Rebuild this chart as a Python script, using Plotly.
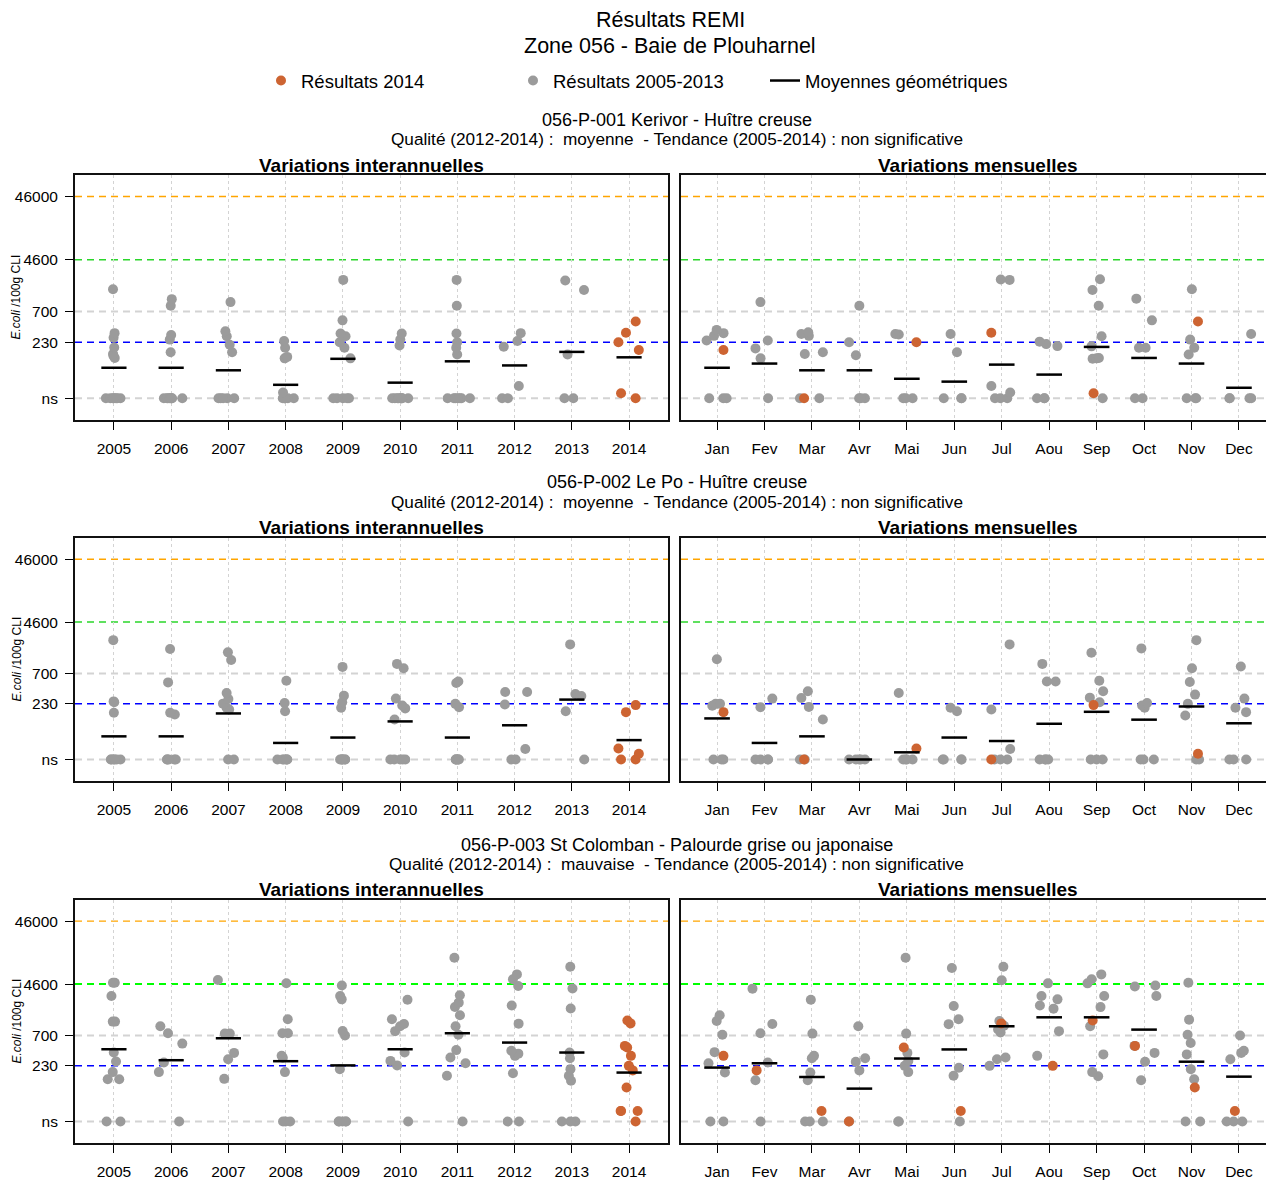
import plotly.graph_objects as go

NS = "ns"
NS_VALUE = 30  # position used to plot "ns" (non significatif) results

years = ["2005", "2006", "2007", "2008", "2009", "2010", "2011", "2012", "2013", "2014"]
months = ["Jan", "Fev", "Mar", "Avr", "Mai", "Jun", "Jul", "Aou", "Sep", "Oct", "Nov", "Dec"]
y_tick_vals = [NS, 230, 700, 4600, 46000]
y_tick_text = ["ns", "230", "700", "4600", "46000"]

# ---------------- Station 1 : 056-P-001 Kerivor - Huître creuse ----------------
s1_title = "056-P-001 Kerivor - Huître creuse"
s1_quality = "Qualité (2012-2014) :  moyenne  - Tendance (2005-2014) : non significative"
s1_year_gray = [
    [1580, 320, 270, 190, 150, 140, 130, NS, NS, NS, NS, NS, NS, NS],
    [1100, 865, 300, 253, 160, NS, NS, NS, NS, NS, NS, NS, NS],
    [988, 343, 286, 210, 160, NS, NS, NS, NS, NS],
    [240, 188, 135, 128, 37, NS, NS, NS, NS, NS, NS],
    [2213, 509, 315, 286, 230, 188, 128, NS, NS, NS, NS, NS],
    [315, 253, 204, NS, NS, NS, NS, NS, NS, NS, NS],
    [2213, 865, 315, 230, 188, 147, NS, NS, NS, NS, NS, NS, NS],
    [320, 240, 195, 47, NS, NS],
    [2170, 1530, 147, NS, NS],
    [],
]
s1_2014_months = ["Jan", "Mar", "Mai", "Jul", "Sep", "Nov"]
s1_2014_values = [173, NS, 230, 325, 36, 490]
s1_year_means = [91, 91, 83, 49, 126, 53, 115, 99, 162, 133]
s1_month_gray = [
    [360, 320, 290, 245, NS, NS, NS],
    [988, 245, 184, 128, NS],
    [330, 310, 290, 160, 150, NS, NS],
    [865, 230, 143, NS, NS, NS],
    [310, 305, NS, NS, NS],
    [310, 160, NS, NS, NS],
    [2213, 2250, 47, 37, NS, NS, NS],
    [235, 215, 200, NS, NS, NS],
    [2270, 1530, 865, 286, 198, 130, 128, 126, NS],
    [1120, 509, 188, 188, NS, NS],
    [1580, 253, 188, 147, NS, NS, NS],
    [310, NS, NS, NS, NS],
]
s1_month_means = [91, 106, 83, 83, 61, 55, 102, 71, 194, 130, 106, 44]

# ---------------- Station 2 : 056-P-002 Le Po - Huître creuse ----------------
s2_title = "056-P-002 Le Po - Huître creuse"
s2_quality = "Qualité (2012-2014) :  moyenne  - Tendance (2005-2014) : non significative"
s2_year_gray = [
    [2375, 252, 244, 166, NS, NS, NS, NS, NS, NS],
    [1714, 505, 166, 156, NS, NS, NS, NS, NS],
    [1517, 1150, 343, 275, 232, 199, 187, NS, NS],
    [537, 238, 176, NS, NS, NS, NS, NS, NS],
    [891, 311, 244, 199, NS, NS, NS, NS, NS, NS],
    [995, 849, 279, 217, 195, 130, NS, NS, NS, NS, NS],
    [523, 493, 230, 204, NS, NS, NS, NS, NS, NS],
    [356, 356, 225, 44, NS, NS],
    [2030, 331, 307, 176, NS],
    [],
]
s2_2014_months = ["Jan", "Mar", "Mai", "Jul", "Sep", "Nov"]
s2_2014_values = [170, NS, 45, NS, 220, 37]
s2_year_means = [70, 70, 162, 55, 67, 121, 67, 105, 269, 61]
s2_month_gray = [
    [1178, 230, 230, 215, NS, NS, NS],
    [279, 204, NS, NS, NS, NS],
    [365, 285, 206, 130, NS, NS],
    [NS, NS, NS, NS, NS],
    [343, NS, NS, NS, NS],
    [199, 176, NS, NS, NS, NS],
    [2030, 187, 44, NS, NS, NS],
    [995, 523, 523, NS, NS, NS, NS],
    [1500, 537, 365, 289, 244, NS, NS, NS],
    [1755, 238, 217, 199, NS, NS, NS],
    [2375, 849, 512, 323, 230, 150, NS, NS],
    [902, 279, 199, 170, NS, NS, NS],
]
s2_month_means = [135, 55, 70, NS, 39, 67, 59, 111, 172, 129, 209, 113]

# ---------------- Station 3 : 056-P-003 St Colomban ----------------
s3_title = "056-P-003 St Colomban - Palourde grise ou japonaise"
s3_quality = "Qualité (2012-2014) :  mauvaise  - Tendance (2005-2014) : non significative"
s3_year_gray = [
    [4840, 4840, 2970, 1164, 1164, 375, 270, 183, 141, 141, NS, NS],
    [981, 760, 520, 260, 183, NS],
    [5330, 750, 750, 370, 294, 143],
    [4750, 1267, 760, 760, 332, 310, 183, NS, NS, NS],
    [4370, 2970, 2630, 827, 700, 204, NS, NS, NS, NS, NS],
    [2590, 1267, 1068, 981, 820, 375, 276, 234, NS],
    [12080, 3050, 2330, 1990, 1466, 981, 720, 410, 312, 253, 160, NS],
    [6560, 5500, 4290, 2100, 1080, 400, 360, 332, 176, NS, NS],
    [8690, 3900, 1880, 375, 305, 204, 160, 133, NS, NS, NS],
    [],
]
s3_2014_months = ["Jan", "Fev", "Mar", "Avr", "Mai", "Jun", "Jul", "Aou", "Sep", "Oct", "Nov", "Dec"]
s3_2014_values = [332, 195, 44, NS, 450, 44, 1090, 230, 1210, 478, 104, 44]
s3_year_means = [423, 283, 632, 273, 234, 423, 760, 540, 375, 180]
s3_month_gray = [
    [1466, 1190, 720, 380, 253, 180, NS, NS],
    [3890, 1068, 760, 260, 136, NS],
    [2590, 750, 332, 305, 180, 136, NS, NS, NS],
    [981, 305, 268, 195, NS],
    [12080, 750, 370, 276, 230, 183, NS, NS],
    [8290, 2060, 1267, 1060, 215, 160, NS],
    [8690, 5280, 1190, 1000, 870, 780, 312, 294, 230],
    [4720, 2970, 2630, 2100, 1870, 820, 332],
    [6560, 5500, 4720, 2970, 1980, 981, 350, 183, 157],
    [4370, 4200, 2970, 478, 370, 268, 136],
    [4840, 1250, 720, 530, 350, 204, 141, NS, NS],
    [700, 400, 370, 294, NS, NS, NS],
]
s3_month_means = [216, 253, 153, 100, 301, 420, 981, 1362, 1362, 868, 268, 155]

stations = [
    (s1_title, s1_quality, s1_year_gray, s1_2014_months, s1_2014_values, s1_year_means, s1_month_gray, s1_month_means),
    (s2_title, s2_quality, s2_year_gray, s2_2014_months, s2_2014_values, s2_year_means, s2_month_gray, s2_month_means),
    (s3_title, s3_quality, s3_year_gray, s3_2014_months, s3_2014_values, s3_year_means, s3_month_gray, s3_month_means),
]

# ---------------- styling / layout ----------------
W, H = 1266, 1182
FONT = "Liberation Sans, Arial, sans-serif"
GRAY = "#9B9B9B"
ORANGE = "#CD6432"
GRIDC = "#D3D3D3"


def px(x):
    return x / W


def py(y):
    return 1 - y / H


def val(v):
    return NS_VALUE if v == NS else v


row_tops = [175, 538, 900]
row_bots = [420, 781, 1143]
row_text_y = [(120, 139, 165), (482, 502, 527), (845, 864, 889)]
left_x = (75, 668)
right_x = (681, W)
year_range = [-0.68, 9.68]
month_range = [-0.76, (W - 717) / 47.45]
y_range = [1.135, 5.0]

fig = go.Figure()

# legend entries
fig.add_trace(go.Scatter(x=[None], y=[None], mode="markers", name="Résultats 2014",
                         marker=dict(color=ORANGE, size=10)))
fig.add_trace(go.Scatter(x=[None], y=[None], mode="markers", name="Résultats 2005-2013",
                         marker=dict(color=GRAY, size=10)))

annotations = []
shapes = []
layout_axes = {}
first_mean = True

for r, (title, quality, year_gray, m2014, v2014, year_means, month_gray, month_means) in enumerate(stations):
    for c in range(2):
        k = 2 * r + c + 1
        xa = "x" if k == 1 else f"x{k}"
        ya = "y" if k == 1 else f"y{k}"
        if c == 0:
            cats = years
            gray_groups = year_gray
            orange_groups = [[] for _ in years]
            for m, v in zip(m2014, v2014):
                orange_groups[years.index("2014")].append(v)
            means = year_means
            hw = 0.22
            bw = 0.44
            xr = year_range
            dom = left_x
        else:
            cats = months
            gray_groups = month_gray
            orange_groups = [[] for _ in months]
            for m, v in zip(m2014, v2014):
                orange_groups[months.index(m)].append(v)
            means = month_means
            hw = 0.27
            bw = 0.52
            xr = month_range
            dom = right_x

        gx, gy, ox, oy = [], [], [], []
        for i, grp in enumerate(gray_groups):
            for v in grp:
                gx.append(i)
                gy.append(val(v))
        for i, grp in enumerate(orange_groups):
            for v in grp:
                ox.append(i)
                oy.append(val(v))

        for xs, ys, col in ((gx, gy, GRAY), (ox, oy, ORANGE)):
            if not xs:
                continue
            fig.add_trace(go.Box(
                x=xs, y=ys, xaxis=xa, yaxis=ya, boxpoints="all", jitter=1, pointpos=0,
                width=bw, fillcolor="rgba(0,0,0,0)",
                line=dict(width=0, color="rgba(0,0,0,0)"),
                marker=dict(color=col, size=10, opacity=1), showlegend=False, hoveron="points"))

        mx, my = [], []
        for i, m in enumerate(means):
            mx += [i - hw, i + hw, None]
            my += [val(m), val(m), None]
        fig.add_trace(go.Scatter(x=mx, y=my, mode="lines", xaxis=xa, yaxis=ya,
                                 line=dict(color="black", width=2.5),
                                 name="Moyennes géométriques", showlegend=first_mean,
                                 hoverinfo="skip"))
        first_mean = False

        axn = "" if k == 1 else str(k)
        layout_axes[f"xaxis{axn}"] = dict(
            domain=[px(dom[0]), min(1.0, px(dom[1]))], anchor=ya, range=xr,
            tickmode="array", tickvals=list(range(len(cats))), ticktext=cats,
            ticks="outside", ticklen=8, tickwidth=1.2, tickcolor="black",
            showgrid=True, gridcolor=GRIDC, griddash="dot", gridwidth=1,
            showline=True, mirror=True, linecolor="#111", linewidth=2,
            zeroline=False, tickfont=dict(size=15.5, color="black", family=FONT),
            ticklabelstandoff=5, fixedrange=True)
        layout_axes[f"yaxis{axn}"] = dict(
            domain=[py(row_bots[r]), py(row_tops[r])], anchor=xa, type="log", range=y_range,
            tickmode="array", tickvals=[val(t) for t in y_tick_vals], ticktext=y_tick_text,
            ticks="outside" if c == 0 else "", ticklen=8, tickwidth=1.2, tickcolor="black",
            showticklabels=(c == 0), showgrid=False, zeroline=False,
            showline=True, mirror=(c == 0), linecolor="#111", linewidth=2,
            tickfont=dict(size=15.5, color="black", family=FONT),
            ticklabelstandoff=4, fixedrange=True)

        # reference threshold lines
        green = "#00FF00" if r == 2 else "#2BD62B"
        gw = 2 if r == 2 else 1.5
        ow = 1.2 if r == 2 else 1.5
        refs = [(NS_VALUE, GRIDC, 2), (700, GRIDC, 2), (230, "#0000FF", 1.5),
                (4600, green, gw), (46000, "#FFA500", ow)]
        for yv, col, lw in refs:
            shapes.append(dict(type="line", xref=f"{xa} domain", yref=ya, x0=0, x1=1,
                               y0=yv, y1=yv, layer="below",
                               line=dict(color=col, width=lw, dash="7px,5px")))

        # panel subtitle
        annotations.append(dict(
            text="<b>Variations interannuelles</b>" if c == 0 else "<b>Variations mensuelles</b>",
            x=px((dom[0] + (dom[1] if c == 0 else 1275)) / 2), y=py(row_text_y[r][2]),
            xref="paper", yref="paper", showarrow=False, xanchor="center", yanchor="middle",
            font=dict(size=19, color="black", family=FONT)))

    # station titles
    annotations.append(dict(text=title, x=px(677), y=py(row_text_y[r][0]), xref="paper", yref="paper",
                            showarrow=False, xanchor="center", yanchor="middle",
                            font=dict(size=18, color="black", family=FONT)))
    annotations.append(dict(text=quality, x=px(677), y=py(row_text_y[r][1]), xref="paper", yref="paper",
                            showarrow=False, xanchor="center", yanchor="middle",
                            font=dict(size=17.2, color="black", family=FONT)))
    annotations.append(dict(text="<i>E.coli</i> /100g CLI", x=px(16), y=py((row_tops[r] + row_bots[r]) / 2),
                            xref="paper", yref="paper", showarrow=False, textangle=-90,
                            xanchor="center", yanchor="middle",
                            font=dict(size=12, color="black", family=FONT)))

annotations.append(dict(text="Résultats REMI", x=px(670), y=py(20), xref="paper", yref="paper",
                        showarrow=False, xanchor="center", yanchor="middle",
                        font=dict(size=21.5, color="black", family=FONT)))
annotations.append(dict(text="Zone 056 - Baie de Plouharnel", x=px(670), y=py(46), xref="paper", yref="paper",
                        showarrow=False, xanchor="center", yanchor="middle",
                        font=dict(size=21.5, color="black", family=FONT)))

fig.update_layout(
    width=W, height=H, margin=dict(l=0, r=0, t=0, b=0),
    paper_bgcolor="white", plot_bgcolor="white",
    font=dict(family=FONT, color="black"),
    boxmode="overlay",
    showlegend=True,
    legend=dict(orientation="h", x=px(261), xanchor="left", y=py(81), yanchor="middle",
                entrywidth=207, entrywidthmode="pixels", font=dict(size=18.5, family=FONT),
                bgcolor="rgba(0,0,0,0)", itemclick=False, itemdoubleclick=False),
    annotations=annotations, shapes=shapes,
    **layout_axes,
)

fig.write_html("out.html", config={"displayModeBar": False},
               post_script="document.body.style.margin='0';document.body.style.padding='0';"
                           "document.body.style.overflow='hidden';")
